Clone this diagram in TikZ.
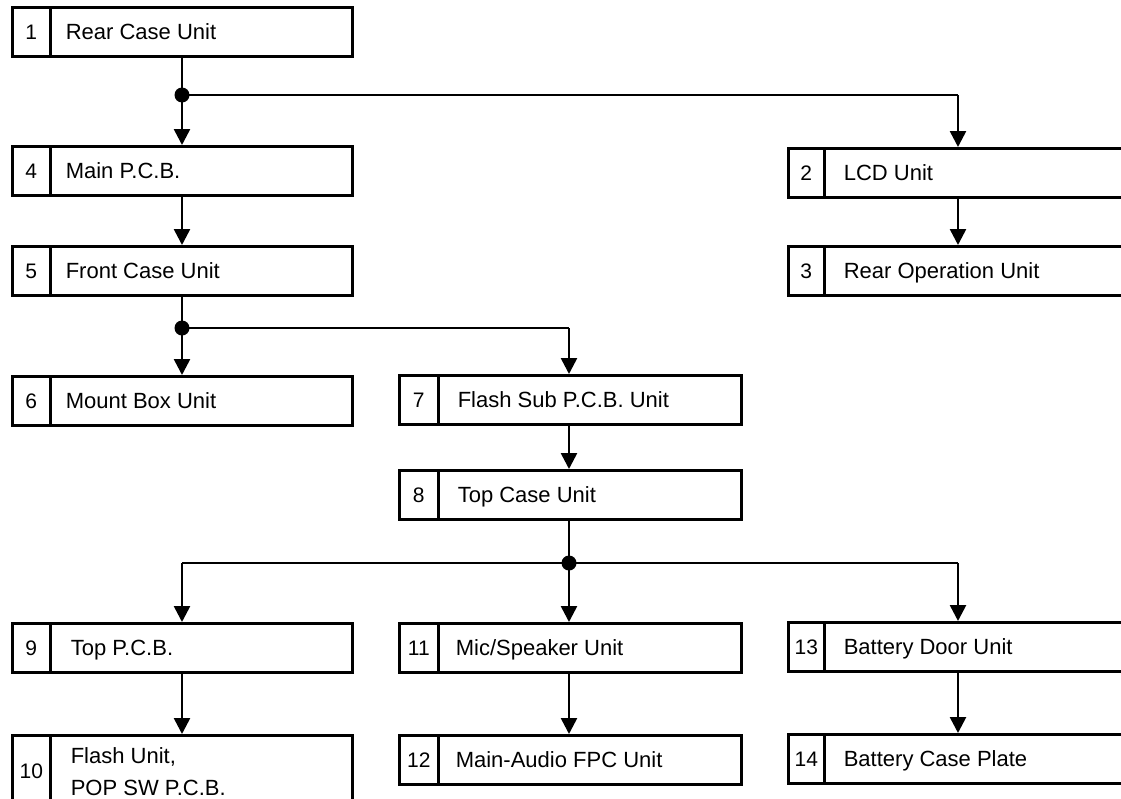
\documentclass[tikz,border=0pt]{standalone}
\usepackage{fontspec}
\setmainfont{Liberation Sans}
\usetikzlibrary{arrows.meta,calc}
\begin{document}
\begin{tikzpicture}[x=1pt,y=-1pt,
  box/.style={draw,line width=2.6pt,rectangle,anchor=north west,minimum height=49pt,inner sep=0pt},
  numcell/.style={draw,line width=2.6pt,rectangle,anchor=north west,minimum width=38pt,minimum height=49pt,inner sep=0pt,text height=15pt,text depth=0pt,font=\fontsize{21}{24}\selectfont},
  lbl/.style={anchor=base west,inner sep=0pt,font=\fontsize{22}{32}\selectfont,align=left},
  conn/.style={line width=2.6pt},
  arr/.style={line width=2.6pt,-{Triangle[length=16pt,width=16pt]}},
  dot/.style={circle,fill=black,inner sep=0pt,minimum size=15pt}
]
\useasboundingbox (0,0) rectangle (1121,798);
\clip (0,0) rectangle (1121,798);
% Box 1
\node[box,minimum width=340pt] (b1) at (11,6) {};
\node[numcell] (n1) at (11,6) {1};
\node[lbl] (t1) at ($(n1.east)+(14,8)$) {Rear Case Unit};
% Box 4
\node[box,minimum width=340pt] (b4) at (11,145) {};
\node[numcell] (n4) at (11,145) {4};
\node[lbl] (t4) at ($(n4.east)+(14,8)$) {Main P.C.B.};
% Box 5
\node[box,minimum width=340pt] (b5) at (11,245) {};
\node[numcell] (n5) at (11,245) {5};
\node[lbl] (t5) at ($(n5.east)+(14,8)$) {Front Case Unit};
% Box 6
\node[box,minimum width=340pt] (b6) at (11,375) {};
\node[numcell] (n6) at (11,375) {6};
\node[lbl] (t6) at ($(n6.east)+(14,8)$) {Mount Box Unit};
% Box 9
\node[box,minimum width=340pt] (b9) at (11,622) {};
\node[numcell] (n9) at (11,622) {9};
\node[lbl] (t9) at ($(n9.east)+(19,8)$) {Top P.C.B.};
% Box 10
\node[box,minimum width=340pt,minimum height=72pt] (b10) at (11,734) {};
\node[numcell,minimum height=72pt] (n10) at (11,734) {10};
\node[lbl,anchor=west] (t10) at ($(n10.east)+(19,0)$) {Flash Unit,\\POP SW P.C.B.};
% Box 2
\node[box,minimum width=342pt] (b2) at (787,147) {};
\node[numcell,minimum width=36pt] (n2) at (787,147) {2};
\node[lbl] (t2) at ($(n2.east)+(18,8)$) {LCD Unit};
% Box 3
\node[box,minimum width=342pt] (b3) at (787,245) {};
\node[numcell,minimum width=36pt] (n3) at (787,245) {3};
\node[lbl] (t3) at ($(n3.east)+(18,8)$) {Rear Operation Unit};
% Box 7
\node[box,minimum width=342pt] (b7) at (398,374) {};
\node[numcell,minimum width=39pt] (n7) at (398,374) {7};
\node[lbl] (t7) at ($(n7.east)+(18,8)$) {Flash Sub P.C.B. Unit};
% Box 8
\node[box,minimum width=342pt] (b8) at (398,469) {};
\node[numcell,minimum width=39pt] (n8) at (398,469) {8};
\node[lbl] (t8) at ($(n8.east)+(18,8)$) {Top Case Unit};
% Box 11
\node[box,minimum width=342pt] (b11) at (398,622) {};
\node[numcell,minimum width=39pt] (n11) at (398,622) {11};
\node[lbl] (t11) at ($(n11.east)+(16,8)$) {Mic/Speaker Unit};
% Box 12
\node[box,minimum width=342pt] (b12) at (398,734) {};
\node[numcell,minimum width=39pt] (n12) at (398,734) {12};
\node[lbl] (t12) at ($(n12.east)+(16,8)$) {Main{-}Audio FPC Unit};
% Box 13
\node[box,minimum width=342pt] (b13) at (787,621) {};
\node[numcell,minimum width=36pt] (n13) at (787,621) {13};
\node[lbl] (t13) at ($(n13.east)+(18,8)$) {Battery Door Unit};
% Box 14
\node[box,minimum width=342pt] (b14) at (787,733) {};
\node[numcell,minimum width=36pt] (n14) at (787,733) {14};
\node[lbl] (t14) at ($(n14.east)+(18,8)$) {Battery Case Plate};
% junctions
\coordinate (j1) at (182,95);
\coordinate (j1r) at (958,95);
\coordinate (j2) at (182,328);
\coordinate (j2r) at (569,328);
\coordinate (j3) at (569,563);
\coordinate (j3l) at (182,563);
\coordinate (j3r) at (958,563);
% connectors
\draw[conn] (b1.south -| j1) -- (j1);
\draw[arr] (j1) -- (b4.north -| j1);
\draw[conn] (j1) -- (j1r);
\draw[arr] (j1r) -- (b2.north -| j1r);
\draw[arr] (b2.south -| j1r) -- (b3.north -| j1r);
\draw[arr] (b4.south -| j1) -- (b5.north -| j1);
\draw[conn] (b5.south -| j2) -- (j2);
\draw[arr] (j2) -- (b6.north -| j2);
\draw[conn] (j2) -- (j2r);
\draw[arr] (j2r) -- (b7.north -| j2r);
\draw[arr] (b7.south -| j2r) -- (b8.north -| j2r);
\draw[conn] (b8.south -| j3) -- (j3);
\draw[conn] (j3l) -- (j3r);
\draw[arr] (j3l) -- (b9.north -| j3l);
\draw[arr] (j3) -- (b11.north -| j3);
\draw[arr] (j3r) -- (b13.north -| j3r);
\draw[arr] (b9.south -| j3l) -- (b10.north -| j3l);
\draw[arr] (b11.south -| j3) -- (b12.north -| j3);
\draw[arr] (b13.south -| j3r) -- (b14.north -| j3r);
\node[dot] (d1) at (j1) {};
\node[dot] (d2) at (j2) {};
\node[dot] (d3) at (j3) {};
\end{tikzpicture}
\end{document}
